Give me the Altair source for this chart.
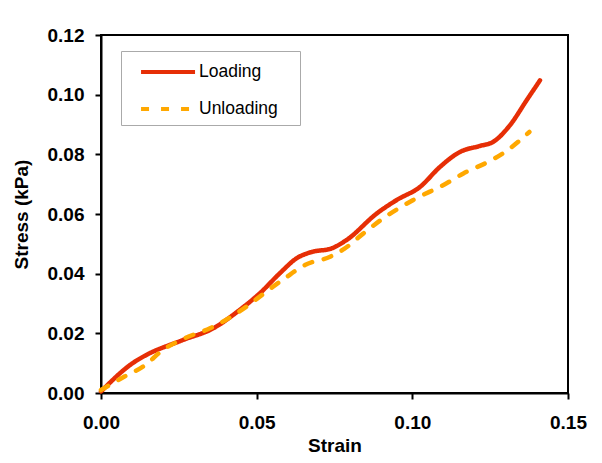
import altair as alt
import pandas as pd

load_x = [0.0, 0.0103, 0.0136, 0.0264, 0.0361, 0.0446, 0.0511, 0.0575, 0.0629, 0.0682,
          0.0736, 0.0789, 0.0886, 0.0950, 0.1025, 0.1089, 0.1153, 0.1217, 0.1260, 0.1314,
          0.1367, 0.1410]
load_y = [0.0005, 0.0101, 0.0122, 0.0178, 0.0217, 0.0279, 0.0335, 0.0402, 0.0452, 0.0474,
          0.0483, 0.0513, 0.0602, 0.0647, 0.0691, 0.0758, 0.0808, 0.0828, 0.0842, 0.0898,
          0.0981, 0.1048]
unload_x = [0.0, 0.0077, 0.0136, 0.0200, 0.0270, 0.0350, 0.0398, 0.0468, 0.0521, 0.0591,
            0.0655, 0.0736, 0.0781, 0.0843, 0.0907, 0.1003, 0.1110, 0.1164, 0.1244, 0.1298,
            0.1376]
unload_y = [0.0010, 0.0056, 0.0089, 0.0145, 0.0184, 0.0217, 0.0243, 0.0290, 0.0332, 0.0385,
            0.0429, 0.0457, 0.0483, 0.0535, 0.0586, 0.0647, 0.0703, 0.0736, 0.0775, 0.0808,
            0.0875]
series = ["Loading", "Unloading"]
colors = ["#E62E06", "#FFA800"]
x_ticks = [0.0, 0.05, 0.10, 0.15]
y_ticks = [0.0, 0.02, 0.04, 0.06, 0.08, 0.10, 0.12]

df = pd.concat([
    pd.DataFrame({"strain": load_x, "stress": load_y, "series": series[0], "order": range(len(load_x))}),
    pd.DataFrame({"strain": unload_x, "stress": unload_y, "series": series[1], "order": range(len(unload_x))}),
])

font = "Liberation Sans"

chart = alt.Chart(df).mark_line(interpolate="monotone", strokeWidth=4.5, strokeCap="round").encode(
    x=alt.X("strain:Q", title="Strain",
            scale=alt.Scale(domain=[0, 0.15], nice=False, zero=False),
            axis=alt.Axis(values=x_ticks, format=".2f", grid=False, labelPadding=14)),
    y=alt.Y("stress:Q", title="Stress (kPa)",
            scale=alt.Scale(domain=[0, 0.12], nice=False),
            axis=alt.Axis(values=y_ticks, format=".2f", grid=False)),
    color=alt.Color("series:N", scale=alt.Scale(domain=series, range=colors),
                    legend=alt.Legend(title=None, orient="none", legendX=20, legendY=16,
                                      strokeColor="#aaaaaa", padding=7,
                                      symbolType="M-0.08,0H4.42", symbolSize=576,
                                      symbolStrokeWidth=4, labelFontSize=17.5,
                                      labelFont=font, labelColor="black",
                                      labelExpr="datum.label + '\u00a0\u00a0\u00a0\u200b'",
                                      labelOffset=43, rowPadding=14)),
    strokeDash=alt.StrokeDash("series:N", scale=alt.Scale(domain=series, range=[[1, 0], [8, 12]]),
                              legend=None),
    order="order:Q",
).properties(
    width=467, height=358,
    padding={"left": 93, "top": 27, "right": 26, "bottom": 62},
    autosize=alt.AutoSizeParams(type="none"),
).configure_view(
    stroke="black", strokeWidth=2
).configure_axis(
    domainColor="black", domainWidth=2, tickColor="black", tickWidth=2, tickSize=6,
    labelFont=font, labelFontSize=19, labelFontWeight="bold", labelColor="black",
    titleFont=font, titleFontSize=19, titleFontWeight="bold", titleColor="black",
    labelPadding=11, labelFlush=False,
).configure_axisY(
    titlePadding=16
).configure_axisX(
    titlePadding=4
)

chart.save("out.html", embed_options={"renderer": "svg", "actions": False})
